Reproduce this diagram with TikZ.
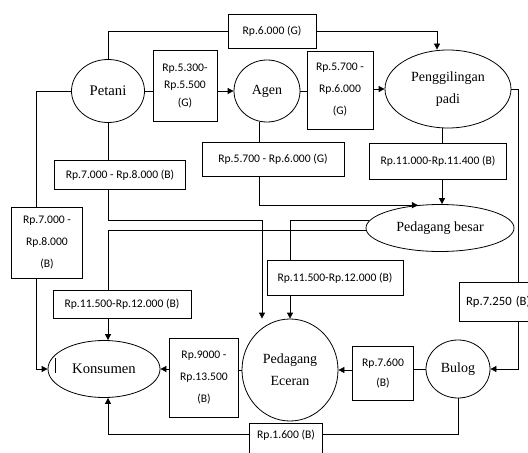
\documentclass[tikz,border=0pt]{standalone}
\usepackage{fontspec}
\setmainfont{Liberation Serif}
\newfontfamily\boxfont{Carlito}
\usetikzlibrary{shapes.geometric,arrows.meta,calc}
\begin{document}
\begin{tikzpicture}[x=0.75pt,y=-0.75pt]
\tikzset{
 ell/.style={ellipse, draw, line width=0.6pt, inner sep=0pt, align=center, font=\fontsize{10.5}{16.5}\selectfont},
 lbl/.style={rectangle, draw, line width=0.6pt, inner sep=0pt, align=center, font=\boxfont\fontsize{8.7}{16.5}\selectfont},
 conn/.style={line width=0.6pt},
 arr/.style={conn, -{Triangle[length=4.5pt,width=4.5pt]}},
}
\useasboundingbox (0,0) rectangle (528,453);
% ellipses
\node[ell, minimum width=54.75pt, minimum height=47.25pt, font=\fontsize{11}{16.5}\selectfont] (petani) at (108,91) {Petani};
\node[ell, minimum width=49.5pt, minimum height=46.5pt] (agen) at (267,91) {Agen};
\node[ell, minimum width=94.5pt, minimum height=58.5pt] (peng) at (448,89) {Penggilingan\\padi};
\node[ell, minimum width=111pt, minimum height=35.25pt] (pb) at (440,228) {Pedagang besar};
\node[ell, minimum width=72pt, minimum height=76.5pt] (pe) at (290,370) {Pedagang\\Eceran};
\node[ell, minimum width=84pt, minimum height=42.75pt, font=\fontsize{11}{16.5}\selectfont] (kons) at (104,369) {Konsumen};
\node[ell, minimum width=48pt, minimum height=43.5pt] (bulog) at (458,369) {Bulog};
% labels
\node[lbl, minimum width=66pt, minimum height=25.5pt] (b6) at (272,31) {Rp.6.000 (G)};
\node[lbl, minimum width=48pt, minimum height=53.25pt, font=\boxfont\fontsize{8.7}{13}\selectfont] (b53) at (185,86) {Rp.5.300-\\Rp.5.500\\(G)};
\node[lbl, minimum width=49.5pt, minimum height=58.5pt] (b57a) at (340,90) {Rp.5.700 -\\Rp.6.000\\(G)};
\node[lbl, minimum width=98.25pt, minimum height=21.75pt] (b70w) at (120,175) {Rp.7.000 - Rp.8.000 (B)};
\node[lbl, minimum width=106.5pt, minimum height=25.5pt] (b57w) at (273,159) {Rp.5.700 - Rp.6.000 (G)};
\node[lbl, minimum width=102.75pt, minimum height=27pt] (b110) at (438,161) {Rp.11.000-Rp.11.400 (B)};
\node[lbl, minimum width=53.25pt, minimum height=53.25pt] (b70t) at (47,243) {Rp.7.000 -\\Rp.8.000\\(B)};
\node[lbl, minimum width=103.5pt, minimum height=21pt] (b115l) at (122,304) {Rp.11.500-Rp.12.000 (B)};
\node[lbl, minimum width=102pt, minimum height=26.25pt] (b115m) at (335,278) {Rp.11.500-Rp.12.000 (B)};
\node[lbl, anchor=west, text width=62pt, inner xsep=5pt, align=left, minimum height=29.25pt, font=\boxfont\fontsize{9.5}{16.5}\selectfont] (b725) at (459,301.5) {Rp.7.250 (B)};
\node[lbl, minimum width=51.75pt, minimum height=59.25pt] (b9000) at (204,378) {Rp.9000 -\\Rp.13.500\\(B)};
\node[lbl, minimum width=45.75pt, minimum height=40.5pt, font=\boxfont\fontsize{8.7}{15}\selectfont] (b76) at (383,373) {Rp.7.600\\(B)};
\node[lbl, anchor=north, minimum width=54.75pt, inner ysep=5pt, text depth=20pt] (b16) at (286,423) {Rp.1.600 (B)};
% helper coordinates
\coordinate (cp1) at (437,0);
\coordinate (cx1) at (259,0);
\coordinate (cx2) at (442,0);
\coordinate (cx3) at (518,0);
\coordinate (cx4) at (36,0);
\coordinate (cx5) at (262,0);
\coordinate (cx6) at (108,0);
\coordinate (cy1) at (0,220);
\coordinate (cy2) at (0,434);
% connectors
\draw[conn] (petani.north) |- (b6.west);
\draw[arr] (b6.east) -| (cp1 |- peng.north);
\draw[conn] (petani.east) -- (b53.west |- petani.east);
\draw[arr] (b53.east |- agen.west) -- (agen.west);
\draw[conn] (agen.east) -- (b57a.west |- agen.east);
\draw[arr] (b57a.east |- peng.west) -- (peng.west);
\draw[conn] (agen.south -| cx1) -- (b57w.north -| cx1);
\draw[arr] (b57w.south -| cx1) |- (pb.134);
\draw[conn] (peng.south -| cx2) -- (b110.north -| cx2);
\draw[arr] (b110.south -| cx2) -- (pb.north -| cx2);
\draw[conn] (peng.east) -| (b725.north -| cx3);
\draw[arr] (b725.south -| cx3) |- (bulog.east);
\draw[conn] (petani.west) -| (b70t.north -| cx4);
\draw[arr] (b70t.south -| cx4) |- (kons.west);
\draw[conn] (petani.south) -- (b70w.north -| petani.south);
\draw[arr] (b70w.south -| petani.south) |- (cx5 |- cy1) -- (cx5 |- pe.north);
\draw[conn] (pb.182) -| (b115l.north -| cx6);
\draw[arr] (b115l.south -| cx6) -- (kons.north -| cx6);
\draw[conn] (pb.174) -| (b115m.north -| pe.north);
\draw[arr] (b115m.south -| pe.north) -- (pe.north);
\draw[conn] (pe.west) -- (b9000.east |- pe.west);
\draw[arr] (b9000.west |- kons.east) -- (kons.east);
\draw[conn] (bulog.west) -- (b76.east |- bulog.west);
\draw[arr] (b76.west |- pe.east) -- (pe.east);
\draw[conn] (bulog.south) |- (b16.east |- cy2);
\draw[arr] (b16.west |- cy2) -| (kons.south -| cx6);
% cursor mark inside Konsumen
\draw[conn] (55,358) -- (55,373);
\end{tikzpicture}
\end{document}
